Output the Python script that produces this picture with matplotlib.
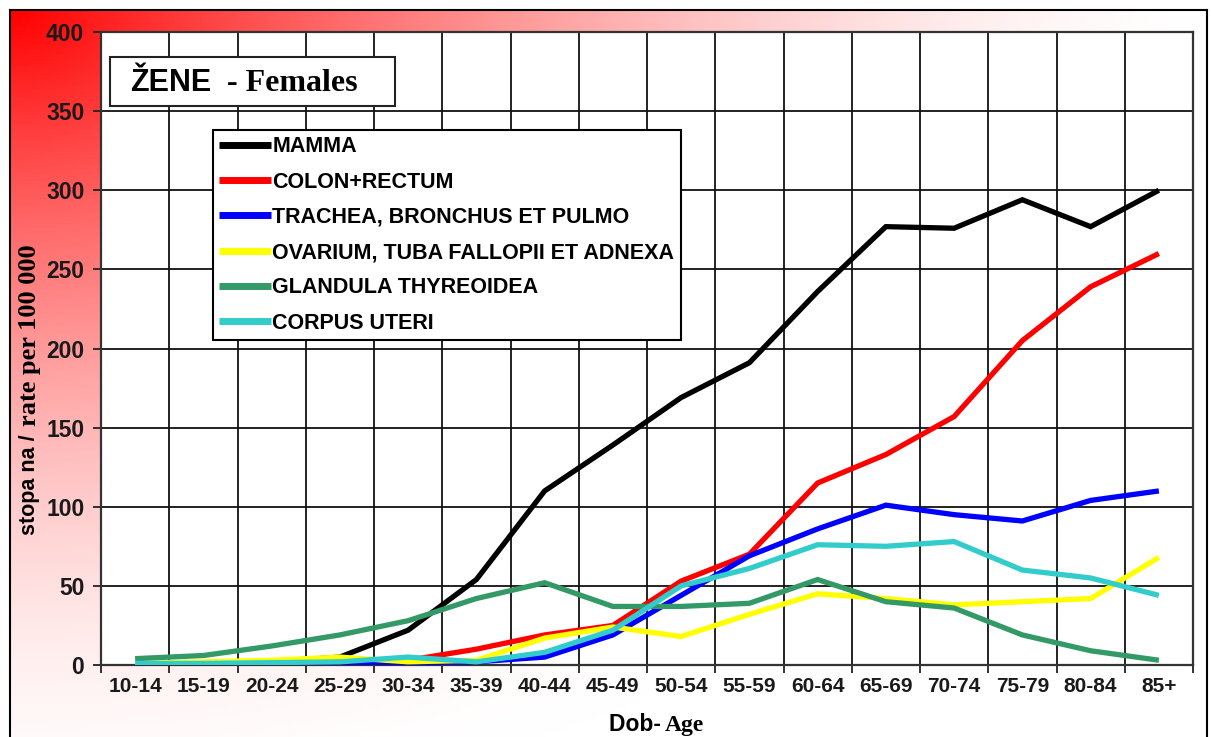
import matplotlib
matplotlib.use("Agg")
import matplotlib.pyplot as plt
import numpy as np
from matplotlib.patches import Rectangle

# age groups and rates per 100 000
age_groups = ["10-14", "15-19", "20-24", "25-29", "30-34", "35-39", "40-44", "45-49",
              "50-54", "55-59", "60-64", "65-69", "70-74", "75-79", "80-84", "85+"]
mamma = [0.5, 1, 2, 5, 22, 54, 110, 139, 169, 191, 236, 277, 276, 294, 277, 300]
colon_rectum = [0, 0.5, 1, 2, 3, 10, 19, 25, 53, 70, 115, 133, 157, 205, 239, 260]
trachea = [0, 0, 0.5, 1, 1.5, 2, 5, 19, 44, 69, 86, 101, 95, 91, 104, 110]
ovarium = [1, 2, 3, 5, 2, 3, 17, 24, 18, 32, 45, 42, 38, 40, 42, 68]
thyroidea = [4, 6, 12, 19, 28, 42, 52, 37, 37, 39, 54, 40, 36, 19, 9, 3]
corpus_uteri = [1, 1, 1.5, 2, 5, 2, 8, 22, 50, 61, 76, 75, 78, 60, 55, 44]

series = [
    ("MAMMA", mamma, "#000000"),
    ("COLON+RECTUM", colon_rectum, "#ff0000"),
    ("TRACHEA, BRONCHUS ET PULMO", trachea, "#0000ff"),
    ("OVARIUM, TUBA FALLOPII ET ADNEXA", ovarium, "#ffff00"),
    ("GLANDULA THYREOIDEA", thyroidea, "#339966"),
    ("CORPUS UTERI", corpus_uteri, "#33cccc"),
]

plt.rcParams["font.family"] = "Liberation Sans"
plt.rcParams["font.weight"] = "bold"

W, H = 1211, 737
fig = plt.figure(figsize=(W / 100, H / 100), dpi=100)
fig.patch.set_facecolor("white")

# red gradient background inside the outer frame
bg = fig.add_axes([10 / W, 0, 1197 / W, 727 / H])
bg.set_zorder(0)
gx, gy = np.meshgrid(np.linspace(0, 1197, 300), np.linspace(0, 727, 200))
t = np.sqrt((gx / W) ** 2 + (gy / (H * 1.1)) ** 2)
f = np.clip(1 - t, 0, 1) ** 1.7
img = np.dstack([np.ones_like(f), 1 - f, 1 - f])
bg.imshow(img, aspect="auto", extent=(0, 1, 0, 1), origin="upper")
bg.set_xticks([])
bg.set_yticks([])
for s in ["left", "top", "right"]:
    bg.spines[s].set_linewidth(1.5)
    bg.spines[s].set_color("black")
bg.spines["bottom"].set_visible(False)

ax = fig.add_axes([101 / W, (H - 665) / H, 1092 / W, 633 / H])
ax.set_zorder(1)
ax.set_facecolor("white")

x = np.arange(len(age_groups))
for i, (label, vals, color) in enumerate(series):
    ax.plot(x, vals, color=color, lw=3.8, label=label, zorder=3 + i,
            solid_joinstyle="miter", solid_capstyle="butt")

ax.set_xlim(-0.5, len(age_groups) - 0.5)
ax.set_ylim(0, 400)
ax.set_yticks(np.arange(0, 401, 50))
ax.set_xticks(np.arange(-0.5, len(age_groups), 1))
ax.set_xticklabels([])
ax.set_xticks(x, minor=True)
ax.set_xticklabels(age_groups, minor=True, fontsize=15, fontweight="bold", color="#1a1a1a")
ax.tick_params(axis="x", which="minor", length=0, pad=9)
ax.tick_params(axis="x", which="major", length=6, width=1.3, color="#222222")
ax.tick_params(axis="y", length=6, width=1.3, color="#222222", labelsize=16.5,
               labelcolor="#1a1a1a", pad=6)
for lab in ax.get_yticklabels():
    lab.set_fontweight("bold")
ax.grid(True, which="major", color="#111111", lw=1.3)
ax.set_axisbelow(True)
for s in ax.spines.values():
    s.set_color("#333333")
    s.set_linewidth(1.6)

leg = ax.legend(loc="upper left", bbox_to_anchor=((213 - 101) / 1092, (665 - 130) / 633),
                borderaxespad=0, fancybox=False, framealpha=1, edgecolor="black",
                prop={"family": "Liberation Sans", "weight": "bold", "size": 15.5},
                handlelength=2.4, handletextpad=0.05, labelspacing=0.66, borderpad=0.3)
leg.get_frame().set_linewidth(1.5)
leg.set_zorder(20)
for h in leg.get_lines():
    h.set_linewidth(5)

# title box
ax.add_patch(Rectangle(((110 - 101) / 1092, (665 - 106) / 633), 285 / 1092, 49 / 633,
                       transform=ax.transAxes, facecolor="white", edgecolor="#222222",
                       lw=1.5, zorder=21))
t1 = ax.text((130 - 101) / 1092, (665 - 83) / 633, "ŽENE", transform=ax.transAxes,
             fontsize=22, fontweight="bold", va="center", ha="left", zorder=22)
ax.annotate("  - Females", xy=(1, 0), xycoords=t1, va="bottom", ha="left",
            fontsize=23, fontweight="bold", family="Liberation Serif", zorder=22)

# axis labels with mixed fonts
fig.text(30 / W, (H - 535) / H, "stopa na / ", rotation=90, ha="center", va="bottom",
         fontsize=15.5, fontweight="bold")
fig.text(30 / W, (H - 426) / H, "rate per 100 000", rotation=90, ha="center", va="bottom",
         fontsize=19, fontweight="bold", family="Liberation Serif")
fig.text(609 / W, (H - 731) / H, "Dob- ", ha="left", va="baseline",
         fontsize=16.5, fontweight="bold")
fig.text(665 / W, (H - 731) / H, "Age", ha="left", va="baseline",
         fontsize=17, fontweight="bold", family="Liberation Serif")

fig.savefig("out.png", dpi=100)
